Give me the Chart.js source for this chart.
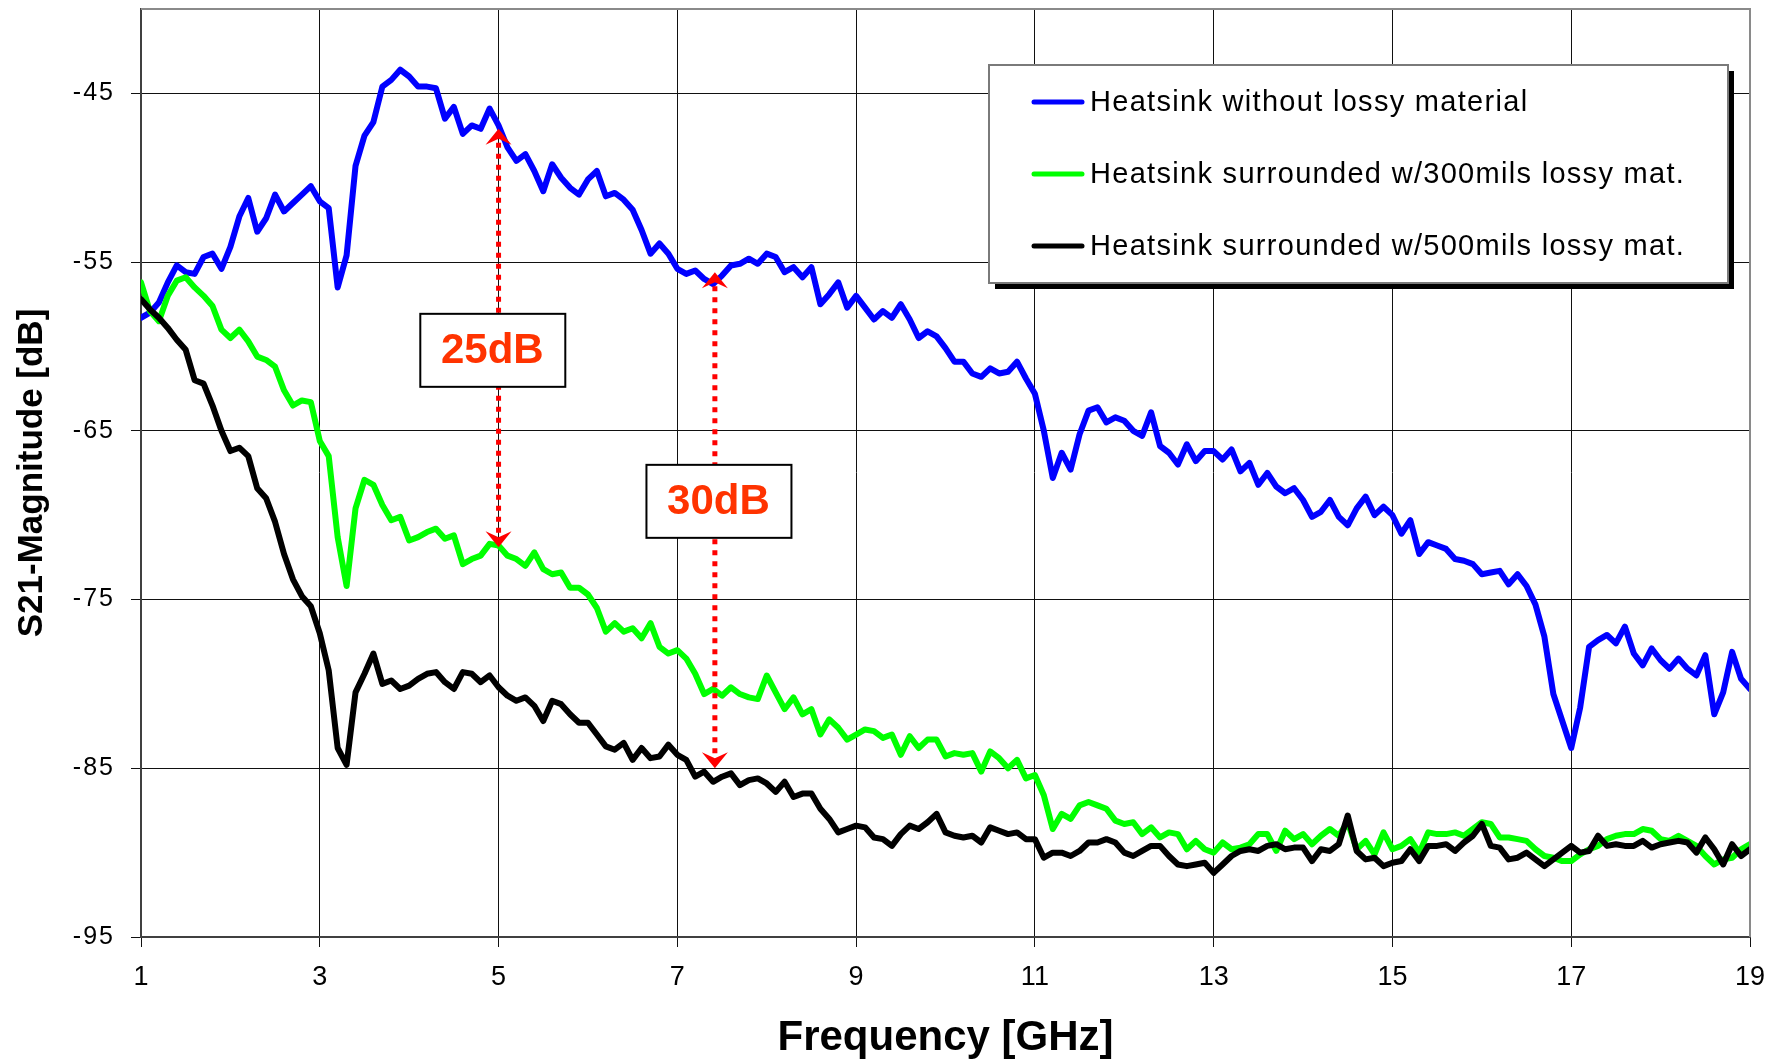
<!DOCTYPE html>
<html>
<head>
<meta charset="utf-8">
<title>S21 magnitude vs frequency</title>
<script src="https://cdn.jsdelivr.net/npm/chart.js@4.4.1/dist/chart.umd.min.js"></script>
<style>
  html, body { margin: 0; padding: 0; background: #fff; }
</style>
</head>
<body>
<canvas id="s21-chart" width="1778" height="1064"></canvas>
<script>
// Measured S21 magnitude [dB], one value every 0.1 GHz from 1 to 19 GHz
const noLossy = [
  -58.3, -58.0, -57.4, -56.2, -55.2, -55.6, -55.7, -54.7, -54.5, -55.4,
  -54.1, -52.3, -51.2, -53.2, -52.4, -51.0, -52.0, -51.5, -51.0, -50.5,
  -51.4, -51.8, -56.5, -54.6, -49.3, -47.5, -46.7, -44.6, -44.2, -43.6,
  -44.0, -44.6, -44.6, -44.7, -46.5, -45.8, -47.4, -46.9, -47.1, -45.9,
  -46.9, -48.2, -49.0, -48.6, -49.6, -50.8, -49.2, -50.0, -50.6, -51.0,
  -50.1, -49.6, -51.1, -50.9, -51.3, -51.9, -53.1, -54.5, -53.9, -54.5,
  -55.4, -55.7, -55.5, -56.0, -56.3, -55.8, -55.2, -55.1, -54.8, -55.1,
  -54.5, -54.7, -55.6, -55.3, -55.9, -55.3, -57.5, -56.9, -56.2, -57.7,
  -57.0, -57.7, -58.4, -57.9, -58.3, -57.5, -58.4, -59.5, -59.1, -59.4,
  -60.1, -60.9, -60.9, -61.6, -61.8, -61.3, -61.6, -61.5, -60.9, -61.9,
  -62.8, -65.0, -67.8, -66.3, -67.3, -65.2, -63.8, -63.6, -64.5, -64.2,
  -64.4, -65.0, -65.3, -63.9, -65.9, -66.3, -67.0, -65.8, -66.8, -66.2,
  -66.2, -66.7, -66.1, -67.4, -66.9, -68.2, -67.5, -68.3, -68.7, -68.4,
  -69.1, -70.1, -69.8, -69.1, -70.1, -70.6, -69.6, -68.9, -70.0, -69.5,
  -70.0, -71.1, -70.3, -72.3, -71.6, -71.8, -72.0, -72.6, -72.7, -72.9,
  -73.5, -73.4, -73.3, -74.1, -73.5, -74.2, -75.3, -77.2, -80.6, -82.2,
  -83.8, -81.4, -77.8, -77.4, -77.1, -77.6, -76.6, -78.2, -78.9, -77.9,
  -78.6, -79.1, -78.5, -79.1, -79.5, -78.3, -81.8, -80.5, -78.1, -79.7,
  -80.3
];
const lossy300 = [
  -56.2, -57.9, -58.5, -57.0, -56.1, -55.9, -56.5, -57.0, -57.6, -59.0,
  -59.5, -59.0, -59.7, -60.6, -60.8, -61.2, -62.6, -63.5, -63.2, -63.3,
  -65.6, -66.5, -71.3, -74.2, -69.6, -67.9, -68.2, -69.4, -70.3, -70.1,
  -71.5, -71.3, -71.0, -70.8, -71.4, -71.2, -72.9, -72.6, -72.4, -71.7,
  -71.8, -72.4, -72.6, -73.0, -72.2, -73.2, -73.5, -73.4, -74.3, -74.3,
  -74.7, -75.5, -76.9, -76.4, -76.9, -76.7, -77.3, -76.4, -77.8, -78.2,
  -78.0, -78.5, -79.4, -80.6, -80.3, -80.7, -80.2, -80.6, -80.8, -80.9,
  -79.5, -80.5, -81.5, -80.8, -81.8, -81.5, -83.0, -82.1, -82.6, -83.3,
  -83.0, -82.7, -82.8, -83.2, -83.0, -84.2, -83.1, -83.8, -83.3, -83.3,
  -84.3, -84.1, -84.2, -84.1, -85.2, -84.0, -84.4, -85.0, -84.5, -85.6,
  -85.4, -86.6, -88.6, -87.7, -88.0, -87.2, -87.0, -87.2, -87.4, -88.1,
  -88.3, -88.2, -88.9, -88.5, -89.1, -88.8, -88.9, -89.8, -89.3, -89.8,
  -90.0, -89.4, -89.8, -89.7, -89.5, -88.9, -88.9, -89.9, -88.7, -89.2,
  -88.9, -89.5, -89.0, -88.6, -89.0, -88.2, -89.8, -89.3, -90.1, -88.8,
  -89.8, -89.6, -89.2, -90.0, -88.8, -88.9, -88.9, -88.8, -89.0, -88.6,
  -88.2, -88.3, -89.1, -89.1, -89.2, -89.3, -89.8, -90.2, -90.3, -90.5,
  -90.5, -90.1, -89.8, -89.6, -89.2, -89.0, -88.9, -88.9, -88.6, -88.7,
  -89.2, -89.3, -89.0, -89.3, -89.6, -90.2, -90.7, -90.4, -90.3, -89.8,
  -89.5
];
const lossy500 = [
  -57.2, -57.8, -58.3, -58.9, -59.6, -60.2, -62.0, -62.2, -63.5, -65.0,
  -66.2, -66.0, -66.5, -68.4, -69.0, -70.4, -72.3, -73.8, -74.8, -75.4,
  -77.0, -79.2, -83.8, -84.8, -80.5, -79.4, -78.2, -80.0, -79.8, -80.3,
  -80.1, -79.7, -79.4, -79.3, -79.9, -80.3, -79.3, -79.4, -79.9, -79.5,
  -80.2, -80.7, -81.0, -80.8, -81.3, -82.2, -81.0, -81.2, -81.8, -82.3,
  -82.3, -83.0, -83.7, -83.9, -83.5, -84.5, -83.8, -84.4, -84.3, -83.6,
  -84.2, -84.5, -85.5, -85.2, -85.8, -85.5, -85.3, -86.0, -85.7, -85.6,
  -85.9, -86.4, -85.8, -86.7, -86.5, -86.5, -87.4, -88.0, -88.8, -88.6,
  -88.4, -88.5, -89.1, -89.2, -89.6, -88.9, -88.4, -88.6, -88.2, -87.7,
  -88.8, -89.0, -89.1, -89.0, -89.4, -88.5, -88.7, -88.9, -88.8, -89.2,
  -89.2, -90.3, -90.0, -90.0, -90.2, -89.9, -89.4, -89.4, -89.2, -89.4,
  -90.0, -90.2, -89.9, -89.6, -89.6, -90.2, -90.7, -90.8, -90.7, -90.6,
  -91.2, -90.7, -90.2, -89.9, -89.8, -89.9, -89.6, -89.5, -89.8, -89.7,
  -89.7, -90.5, -89.8, -89.9, -89.5, -87.8, -89.9, -90.4, -90.3, -90.8,
  -90.6, -90.5, -89.8, -90.5, -89.6, -89.6, -89.5, -89.9, -89.4, -89.0,
  -88.3, -89.6, -89.7, -90.4, -90.3, -90.0, -90.4, -90.8, -90.4, -90.0,
  -89.6, -90.0, -89.9, -89.0, -89.6, -89.5, -89.6, -89.6, -89.3, -89.7,
  -89.5, -89.4, -89.3, -89.4, -90.0, -89.1, -89.8, -90.7, -89.5, -90.2,
  -89.8
];

// frequency grid [GHz] that the values above are sampled on
const freqGHz = noLossy.map((_, i) => Math.round((1 + i * 0.1) * 10) / 10);

const seriesNames = [
  "Heatsink without lossy material",
  "Heatsink surrounded w/300mils lossy mat.",
  "Heatsink surrounded w/500mils lossy mat.",
];
const seriesColors = ["#0000ff", "#00ff00", "#000000"];

const xTicks = [1, 3, 5, 7, 9, 11, 13, 15, 17, 19];
const yTicks = [-95, -85, -75, -65, -55, -45];

// dB difference markers
const markerFreq = [5.0, 7.42];
const markerTop = [-47.1, -55.6];
const markerBottom = [-71.9, -85.0];
const markerLabels = ["25dB", "30dB"];
const labelFreq = [4.93, 7.46];
const labelLevel = [-60.2, -69.15];

const FONT = "'Liberation Sans', Arial, Helvetica, sans-serif";
Chart.defaults.font.family = FONT;
Chart.defaults.color = "#000";

function toPoints(values) {
  return values.map((v, i) => ({ x: freqGHz[i], y: v }));
}

function drawArrowHead(ctx, x, y, dir) {
  // dir = -1 points up, dir = 1 points down, tip at (x, y)
  ctx.beginPath();
  ctx.moveTo(x, y);
  ctx.lineTo(x - 13, y - dir * 16);
  ctx.lineTo(x, y - dir * 10);
  ctx.lineTo(x + 13, y - dir * 16);
  ctx.closePath();
  ctx.fill();
}

// gray frame on top and right of the plot area
const plotFrame = {
  id: "plotFrame",
  afterDatasetsDraw(chart) {
    const { ctx, chartArea: a } = chart;
    ctx.save();
    ctx.strokeStyle = "#8a8a8a";
    ctx.lineWidth = 2;
    ctx.beginPath();
    ctx.moveTo(a.left, a.top);
    ctx.lineTo(a.right, a.top);
    ctx.lineTo(a.right, a.bottom);
    ctx.stroke();
    ctx.restore();
  },
};

const dbMarkers = {
  id: "dbMarkers",
  afterDatasetsDraw(chart) {
    const { ctx, scales: { x, y } } = chart;
    ctx.save();
    for (let i = 0; i < markerFreq.length; i++) {
      const px = x.getPixelForValue(markerFreq[i]);
      const yTop = y.getPixelForValue(markerTop[i]);
      const yBot = y.getPixelForValue(markerBottom[i]);

      ctx.strokeStyle = "#ff0000";
      ctx.fillStyle = "#ff0000";
      ctx.lineWidth = 5;
      ctx.setLineDash([5, 6]);
      ctx.beginPath();
      ctx.moveTo(px, yTop + 14);
      ctx.lineTo(px, yBot - 14);
      ctx.stroke();
      ctx.setLineDash([]);
      drawArrowHead(ctx, px, yTop, -1);
      drawArrowHead(ctx, px, yBot, 1);

      const bx = x.getPixelForValue(labelFreq[i]);
      const by = y.getPixelForValue(labelLevel[i]);
      ctx.fillStyle = "#fff";
      ctx.fillRect(bx - 72, by - 36, 145, 73);
      ctx.strokeStyle = "#000";
      ctx.lineWidth = 2;
      ctx.strokeRect(bx - 72, by - 36, 145, 73);

      ctx.fillStyle = "#ff3300";
      ctx.font = "bold 42px " + FONT;
      ctx.textAlign = "center";
      ctx.textBaseline = "middle";
      ctx.fillText(markerLabels[i], bx, by + 2);
    }
    ctx.restore();
  },
};

const boxedLegend = {
  id: "boxedLegend",
  afterDraw(chart) {
    const ctx = chart.ctx;
    const left = 989, top = 65, w = 739, h = 218;
    ctx.save();
    ctx.fillStyle = "#000";
    ctx.fillRect(left + 6, top + 6, w, h);
    ctx.fillStyle = "#fff";
    ctx.fillRect(left, top, w, h);
    ctx.strokeStyle = "#7a7a7a";
    ctx.lineWidth = 2;
    ctx.strokeRect(left, top, w, h);

    ctx.font = "29px " + FONT;
    ctx.letterSpacing = "1.3px";
    ctx.textAlign = "left";
    ctx.textBaseline = "middle";
    seriesNames.forEach((name, i) => {
      const rowY = top + 37 + i * 72;
      ctx.strokeStyle = seriesColors[i];
      ctx.lineWidth = 5;
      ctx.lineCap = "round";
      ctx.beginPath();
      ctx.moveTo(1034, rowY);
      ctx.lineTo(1082, rowY);
      ctx.stroke();
      ctx.fillStyle = "#000";
      ctx.fillText(name, 1090, rowY + 1);
    });
    ctx.restore();
  },
};

// slightly spaced y tick labels, like the original
const spacedYLabels = {
  id: "spacedYLabels",
  afterLayout(chart) {
    const s = chart.scales.y;
    if (s._spaced) return;
    const orig = s.drawLabels;
    s.drawLabels = function (area) {
      this.ctx.save();
      this.ctx.letterSpacing = "2px";
      orig.call(this, area);
      this.ctx.restore();
    };
    s._spaced = true;
  },
};

const ctx = document.getElementById("s21-chart").getContext("2d");
const s21Chart = new Chart(ctx, {
  type: "line",
  data: {
    datasets: [noLossy, lossy300, lossy500].map((values, i) => ({
      label: seriesNames[i],
      data: toPoints(values),
      borderColor: seriesColors[i],
      backgroundColor: seriesColors[i],
      borderWidth: 6,
      pointRadius: 0,
      tension: 0,
      borderJoinStyle: "round",
      borderCapStyle: "round",
      order: 2 - i,
    })),
  },
  options: {
    responsive: false,
    animation: false,
    devicePixelRatio: 1,
    layout: { padding: { top: 9, right: 28, left: 0, bottom: 0 } },
    plugins: {
      legend: { display: false },
      tooltip: { enabled: false },
    },
    scales: {
      x: {
        type: "linear",
        min: 1,
        max: 19,
        afterBuildTicks: (s) => { s.ticks = xTicks.map((v) => ({ value: v })); },
        afterFit: (s) => { s.height = 127; s.paddingLeft = 0; s.paddingRight = 0; },
        grid: { color: "#111", lineWidth: 1, tickLength: 10 },
        border: { color: "#404040", width: 2 },
        ticks: { font: { size: 27 }, padding: 14, maxRotation: 0, autoSkip: false },
        title: {
          display: true,
          text: "Frequency [GHz]",
          font: { size: 42, weight: "bold" },
          padding: { top: 0, bottom: 0 },
        },
      },
      y: {
        type: "linear",
        min: -95,
        max: -40,
        afterBuildTicks: (s) => { s.ticks = yTicks.map((v) => ({ value: v })); },
        afterFit: (s) => { s.width = 141; s.paddingTop = 0; s.paddingBottom = 0; },
        grid: { color: "#111", lineWidth: 1, tickLength: 10 },
        border: { color: "#404040", width: 2 },
        ticks: { font: { size: 25 }, padding: 16 },
        title: {
          display: true,
          text: "S21-Magnitude [dB]",
          font: { size: 35, weight: "bold" },
          padding: { top: 11, bottom: 0 },
        },
      },
    },
  },
  plugins: [spacedYLabels, plotFrame, dbMarkers, boxedLegend],
});
</script>
</body>
</html>
